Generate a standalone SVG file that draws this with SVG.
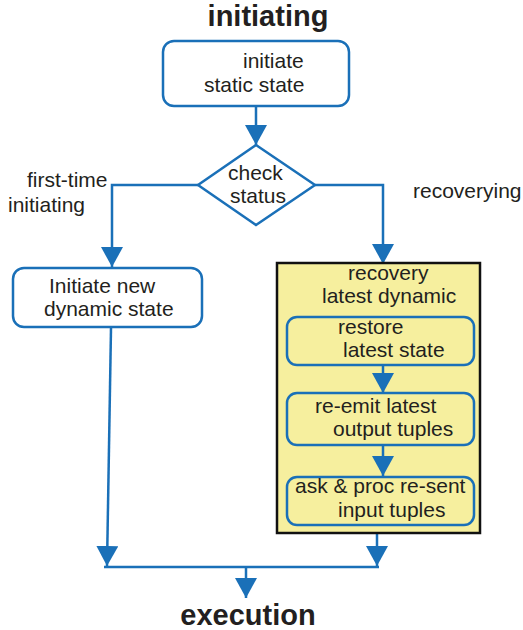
<svg xmlns="http://www.w3.org/2000/svg" width="523" height="630" viewBox="0 0 523 630">
<style>
.t{font-family:"Liberation Sans",Arial,sans-serif;font-size:21px;fill:#231f20}
.h{font-family:"Liberation Sans",Arial,sans-serif;font-size:29px;font-weight:bold;fill:#231f20}
.b{fill:#fff;stroke:#1a70b8;stroke-width:2.5}
.c{fill:none;stroke:#1a70b8;stroke-width:2.5}
</style>
<defs>
<marker id="ah" markerUnits="userSpaceOnUse" markerWidth="20" markerHeight="22" refX="20" refY="11" orient="auto">
<path d="M0,0 L20,11 L0,22 z" fill="#1a70b8"/>
</marker>
</defs>
<rect width="523" height="630" fill="#fff"/>
<text class="h" x="268" y="26" text-anchor="middle">initiating</text>
<g id="connectors">
<path class="c" d="M256,106 V145" marker-end="url(#ah)"/>
<path class="c" d="M198,185 H112 V267" marker-end="url(#ah)"/>
<path class="c" d="M315,185 H383 V264" marker-end="url(#ah)"/>
<path class="c" d="M111,328 L107,566" marker-end="url(#ah)"/>
<path class="c" d="M377,534 V566" marker-end="url(#ah)"/>
<path class="c" d="M104,567 H379"/>
<path class="c" d="M246,567 V598" marker-end="url(#ah)"/>
</g>
<g id="initiate-static">
<rect class="b" x="163" y="41" width="186" height="65" rx="11"/>
<text class="t" x="243" y="68">initiate</text>
<text class="t" x="204" y="92">static state</text>
</g>
<g id="check-status">
<polygon class="b" points="256,145 315,185 256,225 198,185"/>
<text class="t" x="228" y="180">check</text>
<text class="t" x="230" y="203">status</text>
</g>
<g id="label-first">
<text class="t" x="27" y="187">first-time</text>
<text class="t" x="8" y="212">initiating</text>
</g>
<g id="label-recover">
<text class="t" x="413" y="198">recoverying</text>
</g>
<g id="initiate-dynamic">
<rect class="b" x="13" y="268" width="189" height="59" rx="11"/>
<text class="t" x="49" y="293">Initiate new</text>
<text class="t" x="44" y="316">dynamic state</text>
</g>
<g id="recovery">
<rect x="277" y="263" width="203" height="270" fill="#f6ef9e" stroke="#111" stroke-width="2.5"/>
<text class="t" x="348" y="280">recovery</text>
<text class="t" x="322" y="303">latest dynamic</text>
</g>
<g id="restore">
<rect class="b" x="287" y="317" width="187" height="48" rx="10" fill="none" style="fill:none"/>
<text class="t" x="338" y="334">restore</text>
<text class="t" x="343" y="357">latest state</text>
</g>
<g id="re-emit">
<rect class="b" x="287" y="393" width="187" height="52" rx="10" style="fill:none"/>
<text class="t" x="315" y="413">re-emit latest</text>
<text class="t" x="333" y="436">output tuples</text>
</g>
<g id="ask-proc">
<rect class="b" x="287" y="477" width="187" height="48" rx="10" style="fill:none"/>
<text class="t" x="295" y="493">ask &amp; proc re-sent</text>
<text class="t" x="338" y="517">input tuples</text>
</g>
<g id="inner-connectors">
<path class="c" d="M383,365 V393" marker-end="url(#ah)"/>
<path class="c" d="M383,445 V476" marker-end="url(#ah)"/>
</g>
<text class="h" x="248" y="625" text-anchor="middle">execution</text>
</svg>
